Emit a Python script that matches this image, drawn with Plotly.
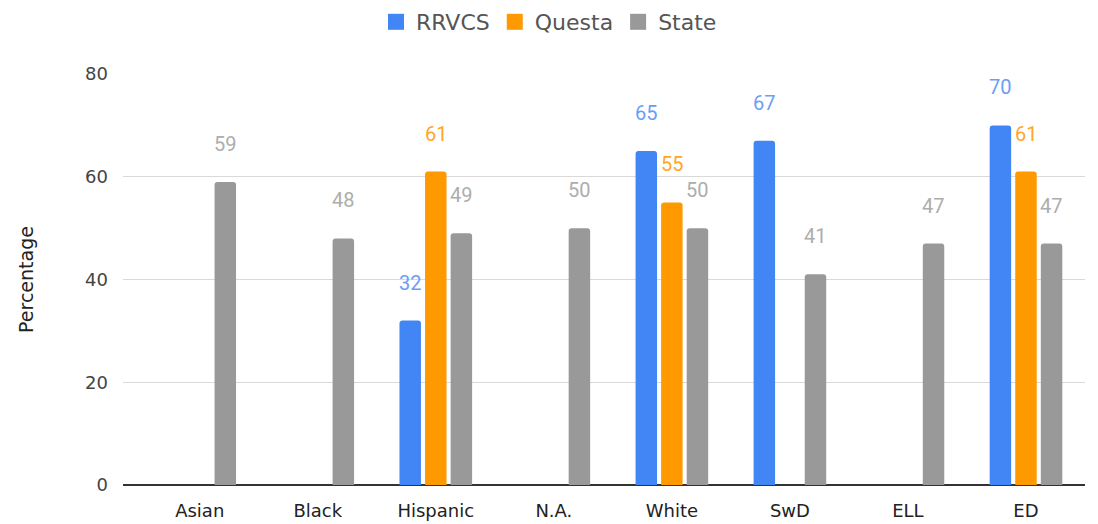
import plotly.graph_objects as go

categories = ["Asian", "Black", "Hispanic", "N.A.", "White", "SwD", "ELL", "ED"]
rrvcs = [None, None, 32, None, 65, 67, None, 70]
questa = [None, None, 61, None, 55, None, None, 61]
state = [59, 48, 49, 50, 50, 41, 47, 47]

series = [
    ("RRVCS", rrvcs, "#4285F4", "#6a9ef6"),
    ("Questa", questa, "#FF9900", "#ffa626"),
    ("State", state, "#999999", "#adadad"),
]

FONT = "DejaVu Sans, Liberation Sans, Arial"

fig = go.Figure()
annotations = []
for i, (name, vals, color, lcolor) in enumerate(series):
    fig.add_trace(go.Bar(x=categories, y=vals, name=name, marker_color=color,
                         marker_line_width=0, showlegend=False))
    for c, v in zip(categories, vals):
        if v is None:
            continue
        annotations.append(dict(x=c, y=v, text=str(v), showarrow=False,
                                xref="x", yref="y", xshift=(i - 1) * 25.5,
                                yshift=38, yanchor="middle",
                                font=dict(family="Roboto", size=20, color=lcolor)))

# legend entries with larger square swatches
for name, vals, color, lcolor in series:
    fig.add_trace(go.Scatter(x=[None], y=[None], mode="markers", name=name,
                             marker=dict(symbol="square", size=20, color=color),
                             showlegend=True))

fig.update_layout(
    width=1082, height=516,
    margin=dict(l=115, r=5, t=66, b=39),
    paper_bgcolor="white", plot_bgcolor="white",
    barmode="group", bargap=0.35, bargroupgap=0.16, barcornerradius=3,
    font=dict(family=FONT, size=18, color="#444444"),
    legend=dict(orientation="h", x=0.5, xref="container", xanchor="center",
                y=1 - 14 / 516, yref="container", yanchor="middle",
                font=dict(family=FONT, size=22, color="#555555"),
                traceorder="normal", itemwidth=30),
    annotations=annotations,
)
fig.update_xaxes(range=[-0.65, 7.5], showgrid=False, ticks="", showline=False,
                 ticklabelstandoff=13, automargin=False,
                 tickfont=dict(family=FONT, size=18, color="#222222"))
fig.update_yaxes(range=[0, 80], dtick=20, showgrid=True, gridcolor="#d9d9d9",
                 gridwidth=1, zeroline=True, zerolinecolor="#333333", zerolinewidth=1.5,
                 ticks="", ticklabelstandoff=14, automargin=False,
                 tickfont=dict(family=FONT, size=18, color="#444444"),
                 title=dict(text="Percentage", font=dict(family=FONT, size=19, color="#222222"),
                            standoff=46))

fig.write_html("out.html")
